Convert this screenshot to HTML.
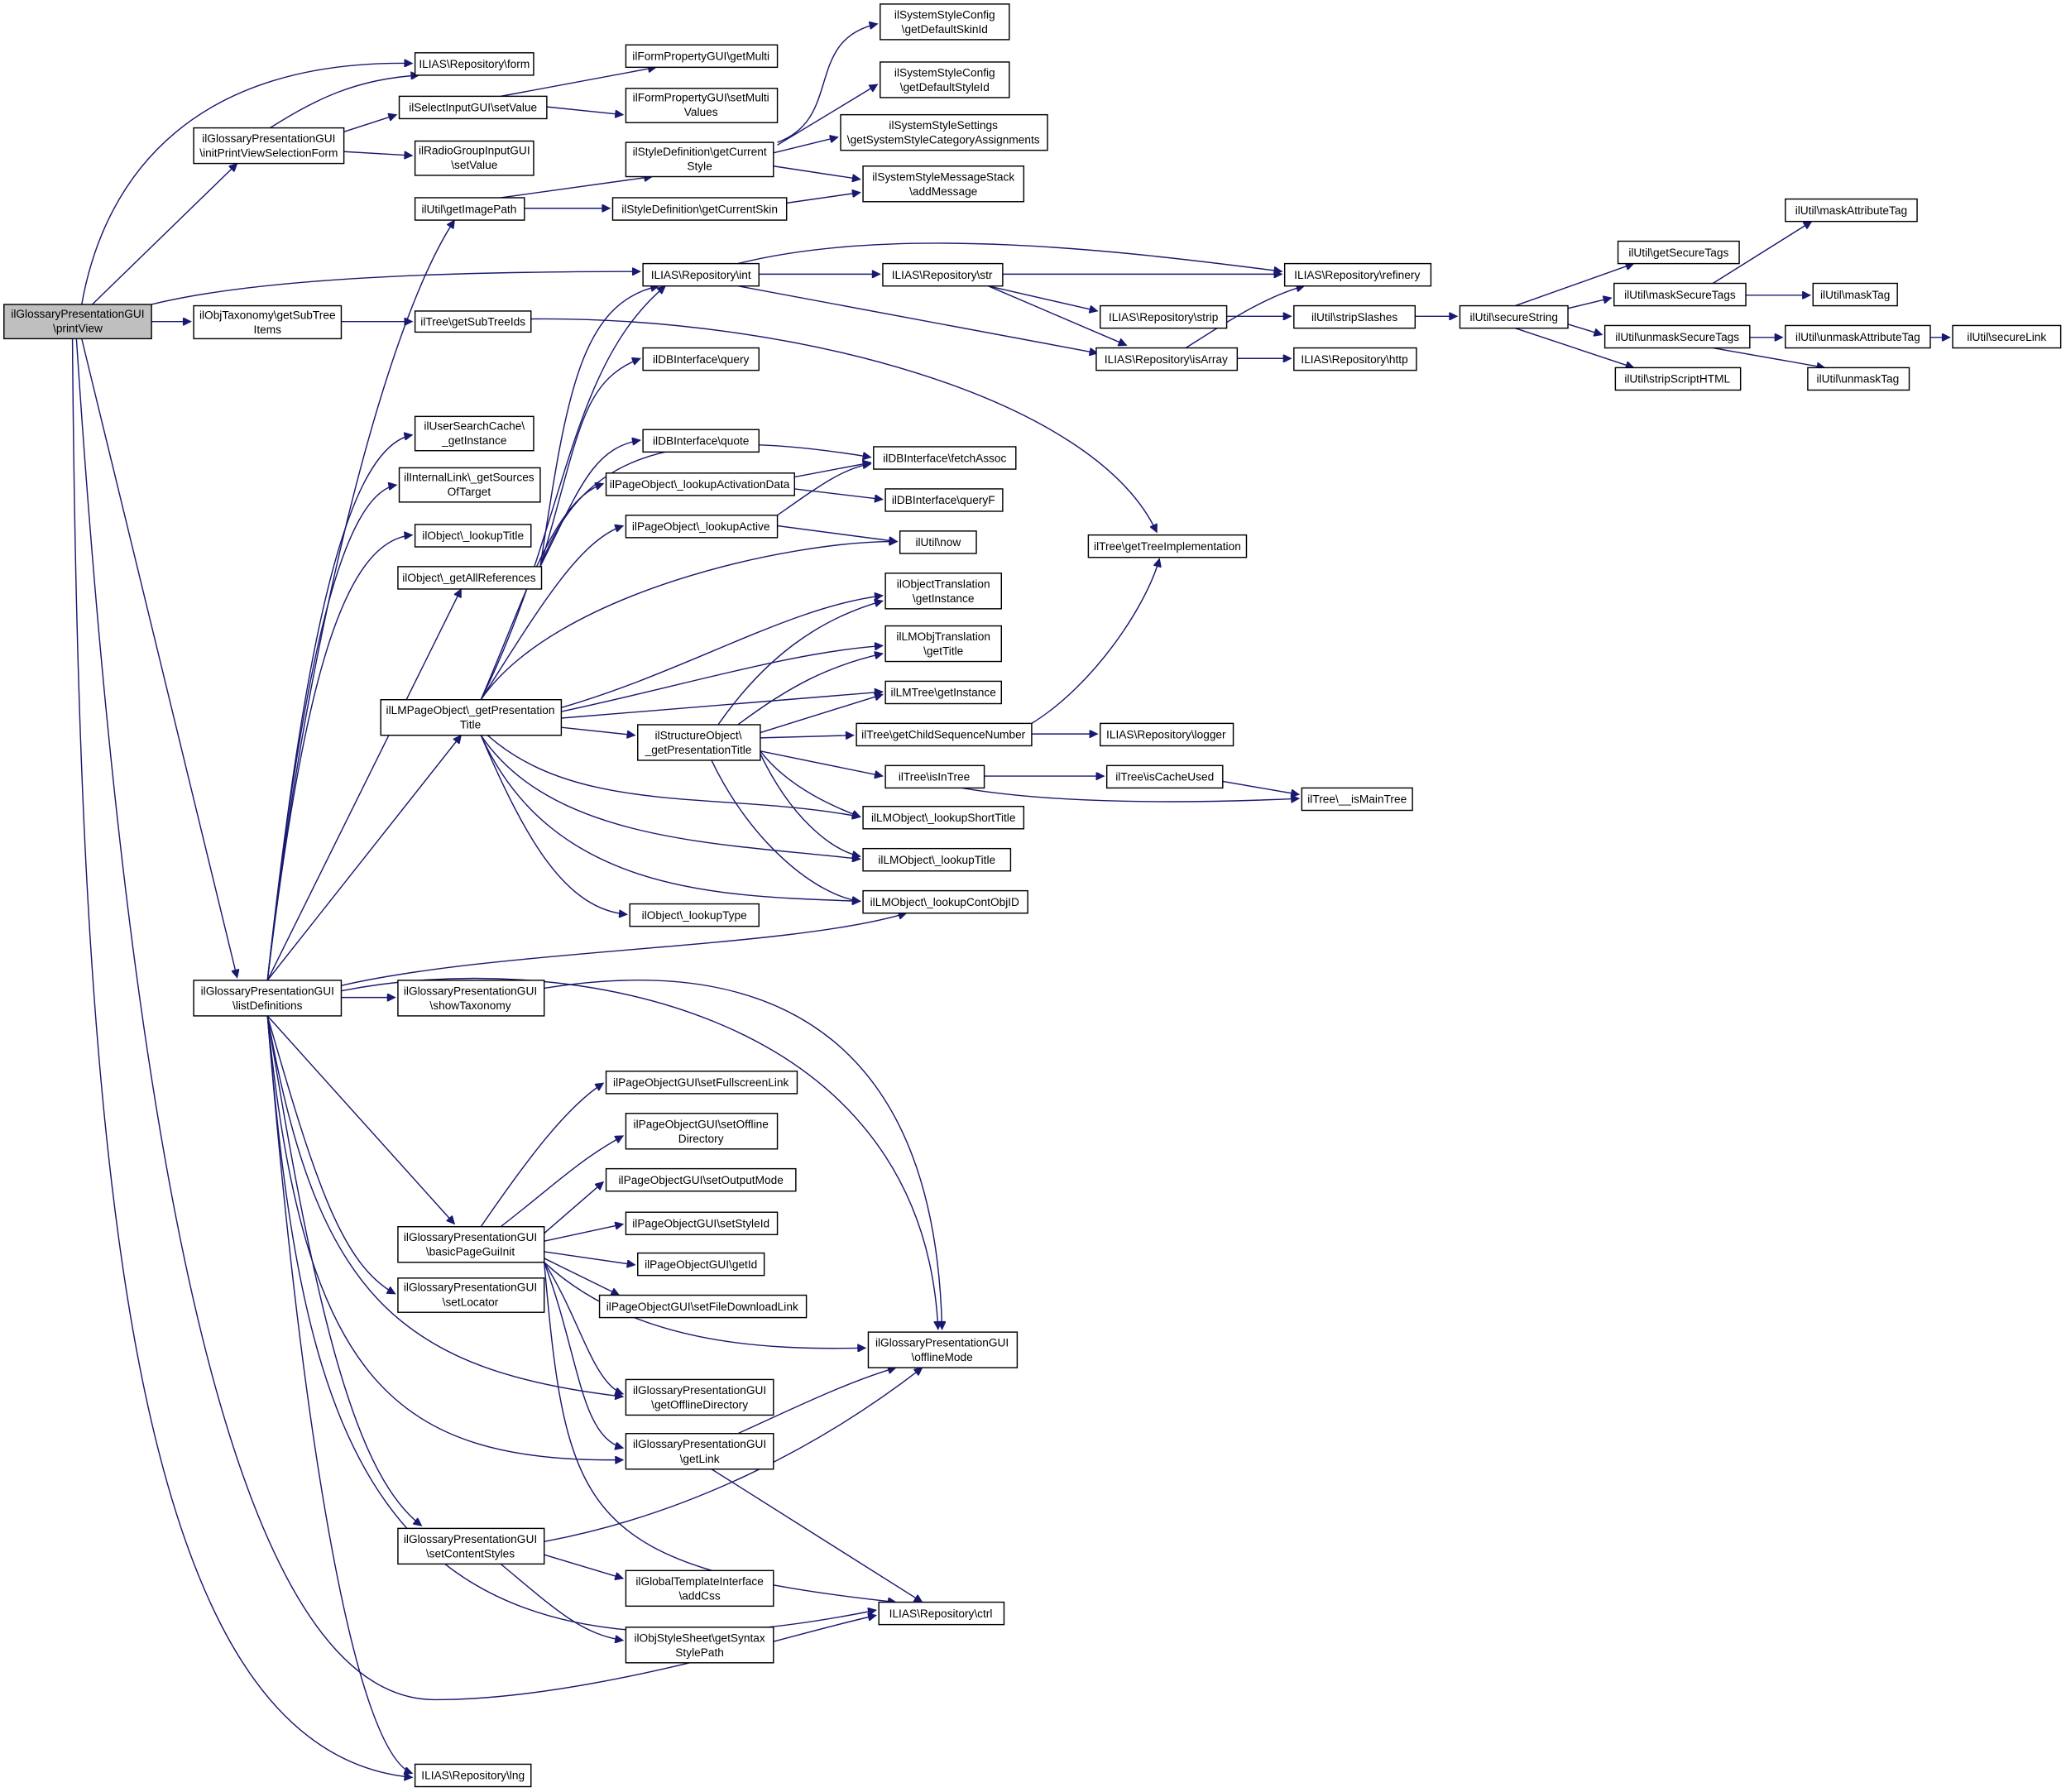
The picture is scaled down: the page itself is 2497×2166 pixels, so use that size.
<!DOCTYPE html>
<html><head><meta charset="utf-8"><style>
html,body{margin:0;padding:0;background:#fff;}
svg{display:block;}
text{font-family:"Liberation Sans",Arial,sans-serif;font-size:8.6px;fill:#000;text-anchor:middle;}
rect{fill:#fff;stroke:#000;stroke-width:0.9;}
path{fill:none;stroke:#191970;stroke-width:0.9;}
</style></head><body>
<svg width="2497" height="2166" viewBox="0 0 1568 1360" xmlns="http://www.w3.org/2000/svg">
<defs><marker id="a" viewBox="0 0 10 10" refX="10" refY="5" markerWidth="9" markerHeight="6" markerUnits="userSpaceOnUse" orient="auto"><path d="M0,0 L10,5 L0,10 z" style="fill:#191970;stroke:#191970"/></marker></defs>
<g marker-end="url(#a)">
<path d="M62,231 C80,130 150,45 313,48"/>
<path d="M70,231 L180,124"/>
<path d="M115,231 C200,210 350,206 486,206"/>
<path d="M115,244 L145,244"/>
<path d="M62,257 L180,742"/>
<path d="M58,257 C100,900 180,1290 330,1290 C450,1290 600,1240 665,1226"/>
<path d="M55,257 C60,900 100,1330 313,1349"/>
<path d="M205,97 C240,75 270,60 318,57"/>
<path d="M261,100 L301,87"/>
<path d="M261,115 L313,118"/>
<path d="M380,73 L498,51"/>
<path d="M415,81 L473,87"/>
<path d="M380,150 L495,134"/>
<path d="M398,158 L463,158"/>
<path d="M590,108 C640,90 610,30 666,18"/>
<path d="M590,110 L666,64"/>
<path d="M587,116 L636,104"/>
<path d="M587,126 L653,136"/>
<path d="M597,154 L653,146"/>
<path d="M259,244 L313,244"/>
<path d="M403,242 C600,240 830,300 878,404"/>
<path d="M576,208 L668,208"/>
<path d="M560,200 C680,170 850,190 973,206"/>
<path d="M560,217 L833,268"/>
<path d="M761,208 L973,208"/>
<path d="M750,217 L833,236"/>
<path d="M750,217 L855,262"/>
<path d="M931,240 L980,240"/>
<path d="M900,264 C930,245 960,225 990,217"/>
<path d="M939,272 L980,272"/>
<path d="M1074,240 L1106,240"/>
<path d="M1150,232 L1240,200"/>
<path d="M1190,234 L1223,226"/>
<path d="M1190,246 L1216,254"/>
<path d="M1150,249 L1240,279"/>
<path d="M1300,215 L1375,168"/>
<path d="M1325,224 L1374,224"/>
<path d="M1328,256 L1353,256"/>
<path d="M1300,264 L1385,279"/>
<path d="M1465,256 L1480,256"/>
<path d="M203,744 C230,500 290,250 345,167"/>
<path d="M203,744 C230,500 260,340 313,330"/>
<path d="M203,744 C230,500 260,375 301,368"/>
<path d="M203,744 C230,520 260,410 313,406"/>
<path d="M203,744 L350,447"/>
<path d="M203,744 L350,558"/>
<path d="M259,757 L300,757"/>
<path d="M259,752 C420,720 700,760 712,1009"/>
<path d="M259,748 C380,720 600,720 688,693"/>
<path d="M203,771 L345,929"/>
<path d="M203,771 C240,900 260,960 300,982"/>
<path d="M203,771 C240,980 300,1040 473,1060"/>
<path d="M203,771 C230,1050 300,1110 473,1108"/>
<path d="M203,771 C240,1000 270,1120 320,1158"/>
<path d="M203,771 C230,1100 280,1300 665,1222"/>
<path d="M203,771 C230,1100 270,1330 313,1346"/>
<path d="M410,430 C430,300 440,230 500,217"/>
<path d="M410,430 C440,330 440,290 486,272"/>
<path d="M410,430 C440,350 500,320 661,347"/>
<path d="M410,430 C440,370 450,340 486,334"/>
<path d="M365,531 C430,400 430,280 505,217"/>
<path d="M365,531 C400,450 420,380 458,367"/>
<path d="M365,531 C410,460 440,410 473,399"/>
<path d="M365,531 C420,450 600,410 681,411"/>
<path d="M426,537 C520,510 600,460 670,452"/>
<path d="M426,540 C520,520 600,495 670,490"/>
<path d="M426,545 L670,525"/>
<path d="M426,552 L482,558"/>
<path d="M370,558 C440,620 550,600 653,620"/>
<path d="M365,558 C420,640 550,640 653,652"/>
<path d="M365,558 C420,680 550,680 653,684"/>
<path d="M365,558 C400,640 430,690 476,694"/>
<path d="M545,550 C580,500 620,470 670,456"/>
<path d="M560,550 C600,520 630,505 670,496"/>
<path d="M577,556 L670,527"/>
<path d="M577,560 L648,558"/>
<path d="M577,570 L670,589"/>
<path d="M577,570 C600,600 640,615 653,620"/>
<path d="M577,572 C600,620 630,645 653,650"/>
<path d="M540,577 C570,640 620,680 653,684"/>
<path d="M603,362 L661,351"/>
<path d="M603,371 L670,379"/>
<path d="M590,391 C620,370 640,355 661,352"/>
<path d="M590,399 L681,411"/>
<path d="M783,549 C830,520 870,460 880,424"/>
<path d="M783,557 L833,557"/>
<path d="M747,589 L838,589"/>
<path d="M730,598 C800,610 900,610 986,606"/>
<path d="M928,593 L986,603"/>
<path d="M413,750 C600,720 710,800 715,1009"/>
<path d="M365,931 C400,880 430,840 458,822"/>
<path d="M380,931 C420,900 440,880 473,862"/>
<path d="M413,936 L458,897"/>
<path d="M413,942 L473,929"/>
<path d="M413,950 L482,960"/>
<path d="M413,955 L470,983"/>
<path d="M413,958 C480,1020 580,1025 657,1023"/>
<path d="M413,958 C440,1000 450,1050 473,1058"/>
<path d="M413,958 C440,1030 440,1090 473,1099"/>
<path d="M413,958 C430,1150 440,1190 680,1216"/>
<path d="M560,1088 C600,1070 640,1050 680,1038"/>
<path d="M540,1115 L700,1216"/>
<path d="M413,1170 C520,1150 620,1100 700,1038"/>
<path d="M413,1180 L473,1198"/>
<path d="M380,1187 C420,1220 440,1240 473,1245"/>
</g>

<rect x="3" y="231" width="112" height="26" style="fill:#bfbfbf"/><text x="59" y="241">ilGlossaryPresentationGUI</text><text x="59" y="252">\printView</text>
<rect x="147" y="97" width="114" height="27"/><text x="204" y="108">ilGlossaryPresentationGUI</text><text x="204" y="119">\initPrintViewSelectionForm</text>
<rect x="147" y="232" width="112" height="25"/><text x="203" y="242">ilObjTaxonomy\getSubTree</text><text x="203" y="253">Items</text>
<rect x="147" y="744" width="112" height="27"/><text x="203" y="755">ilGlossaryPresentationGUI</text><text x="203" y="766">\listDefinitions</text>

<rect x="315" y="40" width="90" height="17"/><text x="360" y="51.5">ILIAS\Repository\form</text>
<rect x="303" y="73" width="112" height="17"/><text x="359" y="84.5">ilSelectInputGUI\setValue</text>
<rect x="315" y="107" width="90" height="26"/><text x="360" y="117">ilRadioGroupInputGUI</text><text x="360" y="128">\setValue</text>
<rect x="315" y="150" width="83" height="17"/><text x="356" y="161.5">ilUtil\getImagePath</text>
<rect x="315" y="236" width="88" height="16"/><text x="359" y="247">ilTree\getSubTreeIds</text>
<rect x="315" y="316" width="90" height="26"/><text x="360" y="326">ilUserSearchCache\</text><text x="360" y="337">_getInstance</text>
<rect x="303" y="355" width="107" height="26"/><text x="356" y="365">ilInternalLink\_getSources</text><text x="356" y="376">OfTarget</text>
<rect x="315" y="398" width="88" height="17"/><text x="359" y="409.5">ilObject\_lookupTitle</text>
<rect x="302" y="430" width="109" height="17"/><text x="356" y="441.5">ilObject\_getAllReferences</text>
<rect x="289" y="531" width="137" height="27"/><text x="357" y="542">ilLMPageObject\_getPresentation</text><text x="357" y="553">Title</text>
<rect x="302" y="744" width="111" height="27"/><text x="357" y="755">ilGlossaryPresentationGUI</text><text x="357" y="766">\showTaxonomy</text>
<rect x="302" y="931" width="111" height="27"/><text x="357" y="942">ilGlossaryPresentationGUI</text><text x="357" y="953">\basicPageGuiInit</text>
<rect x="302" y="970" width="111" height="26"/><text x="357" y="980">ilGlossaryPresentationGUI</text><text x="357" y="991">\setLocator</text>
<rect x="302" y="1160" width="111" height="27"/><text x="357" y="1171">ilGlossaryPresentationGUI</text><text x="357" y="1182">\setContentStyles</text>
<rect x="315" y="1339" width="88" height="17"/><text x="359" y="1350.5">ILIAS\Repository\lng</text>

<rect x="488" y="200" width="88" height="17"/><text x="532" y="211.5">ILIAS\Repository\int</text>
<rect x="475" y="34" width="115" height="17"/><text x="532" y="45.5">ilFormPropertyGUI\getMulti</text>
<rect x="475" y="67" width="115" height="26"/><text x="532" y="77">ilFormPropertyGUI\setMulti</text><text x="532" y="88">Values</text>
<rect x="475" y="108" width="112" height="26"/><text x="531" y="118">ilStyleDefinition\getCurrent</text><text x="531" y="129">Style</text>
<rect x="465" y="150" width="132" height="17"/><text x="531" y="161.5">ilStyleDefinition\getCurrentSkin</text>
<rect x="488" y="264" width="88" height="17"/><text x="532" y="275.5">ilDBInterface\query</text>
<rect x="488" y="326" width="88" height="17"/><text x="532" y="337.5">ilDBInterface\quote</text>
<rect x="460" y="359" width="143" height="17"/><text x="531" y="370.5">ilPageObject\_lookupActivationData</text>
<rect x="475" y="391" width="115" height="17"/><text x="532" y="402.5">ilPageObject\_lookupActive</text>
<rect x="484" y="550" width="93" height="27"/><text x="530" y="561">ilStructureObject\</text><text x="530" y="572">_getPresentationTitle</text>
<rect x="478" y="686" width="98" height="17"/><text x="527" y="697.5">ilObject\_lookupType</text>
<rect x="460" y="813" width="145" height="17"/><text x="532" y="824.5">ilPageObjectGUI\setFullscreenLink</text>
<rect x="475" y="845" width="115" height="27"/><text x="532" y="856">ilPageObjectGUI\setOffline</text><text x="532" y="867">Directory</text>
<rect x="460" y="887" width="144" height="17"/><text x="532" y="898.5">ilPageObjectGUI\setOutputMode</text>
<rect x="475" y="920" width="115" height="17"/><text x="532" y="931.5">ilPageObjectGUI\setStyleId</text>
<rect x="484" y="951" width="96" height="17"/><text x="532" y="962.5">ilPageObjectGUI\getId</text>
<rect x="455" y="983" width="157" height="17"/><text x="533" y="994.5">ilPageObjectGUI\setFileDownloadLink</text>
<rect x="475" y="1047" width="112" height="27"/><text x="531" y="1058">ilGlossaryPresentationGUI</text><text x="531" y="1069">\getOfflineDirectory</text>
<rect x="475" y="1088" width="112" height="27"/><text x="531" y="1099">ilGlossaryPresentationGUI</text><text x="531" y="1110">\getLink</text>
<rect x="475" y="1192" width="112" height="27"/><text x="531" y="1203">ilGlobalTemplateInterface</text><text x="531" y="1214">\addCss</text>
<rect x="475" y="1235" width="112" height="27"/><text x="531" y="1246">ilObjStyleSheet\getSyntax</text><text x="531" y="1257">StylePath</text>

<rect x="668" y="3" width="98" height="27"/><text x="717" y="14">ilSystemStyleConfig</text><text x="717" y="25">\getDefaultSkinId</text>
<rect x="668" y="47" width="98" height="27"/><text x="717" y="58">ilSystemStyleConfig</text><text x="717" y="69">\getDefaultStyleId</text>
<rect x="638" y="87" width="157" height="27"/><text x="716" y="98">ilSystemStyleSettings</text><text x="716" y="109">\getSystemStyleCategoryAssignments</text>
<rect x="655" y="126" width="122" height="27"/><text x="716" y="137">ilSystemStyleMessageStack</text><text x="716" y="148">\addMessage</text>
<rect x="670" y="200" width="91" height="17"/><text x="715" y="211.5">ILIAS\Repository\str</text>
<rect x="663" y="339" width="108" height="17"/><text x="717" y="350.5">ilDBInterface\fetchAssoc</text>
<rect x="672" y="371" width="89" height="17"/><text x="716" y="382.5">ilDBInterface\queryF</text>
<rect x="683" y="403" width="58" height="17"/><text x="712" y="414.5">ilUtil\now</text>
<rect x="672" y="435" width="88" height="27"/><text x="716" y="446">ilObjectTranslation</text><text x="716" y="457">\getInstance</text>
<rect x="672" y="475" width="88" height="27"/><text x="716" y="486">ilLMObjTranslation</text><text x="716" y="497">\getTitle</text>
<rect x="672" y="517" width="88" height="17"/><text x="716" y="528.5">ilLMTree\getInstance</text>
<rect x="650" y="549" width="133" height="17"/><text x="716" y="560.5">ilTree\getChildSequenceNumber</text>
<rect x="672" y="581" width="75" height="17"/><text x="709" y="592.5">ilTree\isInTree</text>
<rect x="655" y="612" width="122" height="17"/><text x="716" y="623.5">ilLMObject\_lookupShortTitle</text>
<rect x="655" y="644" width="112" height="17"/><text x="711" y="655.5">ilLMObject\_lookupTitle</text>
<rect x="655" y="676" width="125" height="17"/><text x="717" y="687.5">ilLMObject\_lookupContObjID</text>
<rect x="659" y="1011" width="113" height="27"/><text x="715" y="1022">ilGlossaryPresentationGUI</text><text x="715" y="1033">\offlineMode</text>
<rect x="667" y="1216" width="95" height="17"/><text x="714" y="1227.5">ILIAS\Repository\ctrl</text>

<rect x="835" y="232" width="96" height="17"/><text x="883" y="243.5">ILIAS\Repository\strip</text>
<rect x="832" y="264" width="107" height="17"/><text x="885" y="275.5">ILIAS\Repository\isArray</text>
<rect x="826" y="406" width="120" height="17"/><text x="886" y="417.5">ilTree\getTreeImplementation</text>
<rect x="835" y="549" width="101" height="17"/><text x="885" y="560.5">ILIAS\Repository\logger</text>
<rect x="840" y="581" width="88" height="17"/><text x="884" y="592.5">ilTree\isCacheUsed</text>

<rect x="975" y="200" width="111" height="17"/><text x="1030" y="211.5">ILIAS\Repository\refinery</text>
<rect x="982" y="232" width="92" height="17"/><text x="1028" y="243.5">ilUtil\stripSlashes</text>
<rect x="982" y="264" width="93" height="17"/><text x="1028" y="275.5">ILIAS\Repository\http</text>
<rect x="988" y="598" width="84" height="17"/><text x="1030" y="609.5">ilTree\__isMainTree</text>
<rect x="1108" y="232" width="82" height="17"/><text x="1149" y="243.5">ilUtil\secureString</text>

<rect x="1228" y="183" width="92" height="17"/><text x="1274" y="194.5">ilUtil\getSecureTags</text>
<rect x="1225" y="215" width="100" height="17"/><text x="1275" y="226.5">ilUtil\maskSecureTags</text>
<rect x="1218" y="247" width="110" height="17"/><text x="1273" y="258.5">ilUtil\unmaskSecureTags</text>
<rect x="1226" y="279" width="95" height="17"/><text x="1273" y="290.5">ilUtil\stripScriptHTML</text>
<rect x="1355" y="151" width="100" height="17"/><text x="1405" y="162.5">ilUtil\maskAttributeTag</text>
<rect x="1376" y="215" width="64" height="17"/><text x="1408" y="226.5">ilUtil\maskTag</text>
<rect x="1355" y="247" width="110" height="17"/><text x="1410" y="258.5">ilUtil\unmaskAttributeTag</text>
<rect x="1372" y="279" width="77" height="17"/><text x="1410" y="290.5">ilUtil\unmaskTag</text>
<rect x="1482" y="247" width="82" height="17"/><text x="1523" y="258.5">ilUtil\secureLink</text>
</svg>
</body></html>
